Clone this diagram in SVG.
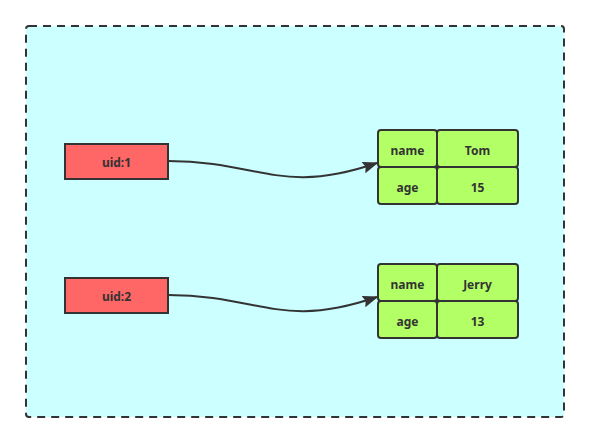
<svg xmlns="http://www.w3.org/2000/svg" width="589" height="443" viewBox="0 0 589 443">
<defs>
<marker id="arr" viewBox="0 0 10 10" refX="9" refY="5" markerWidth="16" markerHeight="12" markerUnits="userSpaceOnUse" orient="auto" preserveAspectRatio="none">
<path d="M0,0 L10,5 L0,10 L1.5,5 Z" fill="#333"/>
</marker>
<style>
.cell{fill:#B3FF66;stroke:#333;stroke-width:2}
.uid{fill:#FF6666;stroke:#333;stroke-width:2}
.t{font-family:"Noto Sans","DejaVu Sans",sans-serif;font-size:12px;font-weight:bold;fill:#333;text-anchor:middle;dominant-baseline:central}
.c{fill:none;stroke:#333;stroke-width:2}
</style>
</defs>
<rect x="26" y="26" width="538" height="391" rx="3" fill="#CCFFFF" stroke="#333" stroke-width="2" stroke-dasharray="8 6"/>
<g id="uid1"><rect class="uid" x="65" y="144" width="103" height="35"/><text class="t" x="116.5" y="162.5">uid:1</text></g>
<g id="uid2"><rect class="uid" x="65" y="278" width="103" height="35"/><text class="t" x="116.5" y="296.5">uid:2</text></g>
<g id="tom">
<rect class="cell" x="378" y="130" width="59" height="37" rx="3"/><text class="t" x="407.5" y="150">name</text>
<rect class="cell" x="437" y="130" width="81" height="37" rx="3"/><text class="t" x="477.5" y="150">Tom</text>
<rect class="cell" x="378" y="167" width="59" height="37" rx="3"/><text class="t" x="407.5" y="187">age</text>
<rect class="cell" x="437" y="167" width="81" height="37" rx="3"/><text class="t" x="477.5" y="187">15</text>
</g>
<g id="jerry">
<rect class="cell" x="378" y="264" width="59" height="37" rx="3"/><text class="t" x="407.5" y="284">name</text>
<rect class="cell" x="437" y="264" width="81" height="37" rx="3"/><text class="t" x="477.5" y="284">Jerry</text>
<rect class="cell" x="378" y="301" width="59" height="37" rx="3"/><text class="t" x="407.5" y="321">age</text>
<rect class="cell" x="437" y="301" width="81" height="37" rx="3"/><text class="t" x="477.5" y="321">13</text>
</g>
<g id="connectors">
<path class="c" d="M168,161 C260,161 280,196 377,163" marker-end="url(#arr)"/>
<path class="c" d="M168,295 C260,295 280,330 377,297" marker-end="url(#arr)"/>
</g>
</svg>
